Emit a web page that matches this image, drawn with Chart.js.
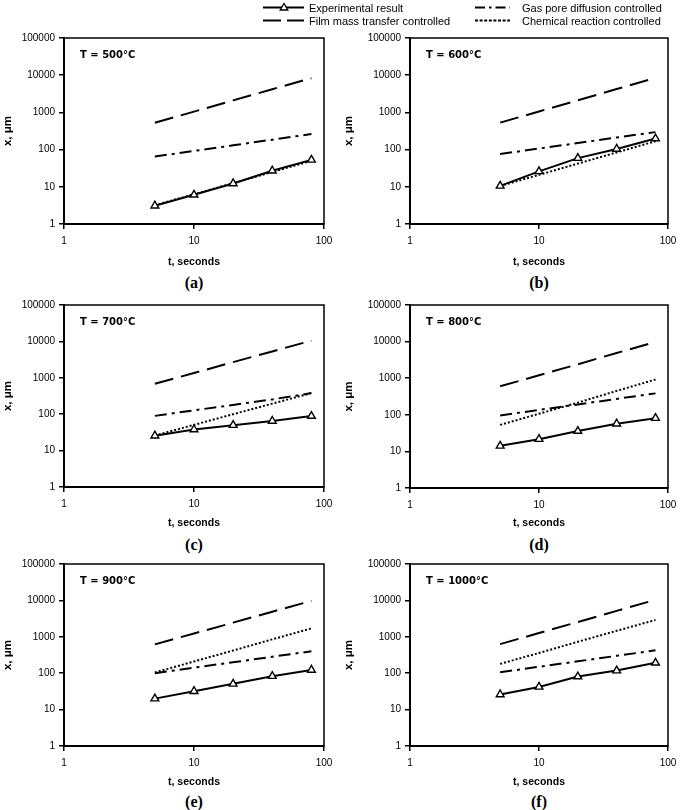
<!DOCTYPE html>
<html><head><meta charset="utf-8">
<script src="https://cdn.jsdelivr.net/npm/chart.js@4.4.1/dist/chart.umd.min.js"></script>
<style>
html,body{margin:0;padding:0;background:#fff;}
#wrap{position:relative;width:685px;height:810px;overflow:hidden;background:#fff;}
#wrap canvas{position:absolute;}
.lg{position:absolute;font:11px 'Liberation Sans',Arial,sans-serif;color:#000;white-space:nowrap;line-height:12px;}
.sub{position:absolute;font:bold 16px 'Liberation Serif','Times New Roman',serif;color:#000;transform:translate(-50%,-50%);white-space:nowrap;}
#lgsvg{position:absolute;left:0;top:0;}
</style></head><body><div id="wrap"></div>
<script>
// ---------------- data ----------------
const times = [5, 10, 20, 40, 80];             // t, seconds
const xTickValues = [1, 10, 100];
const yTickValues = [1, 10, 100, 1000, 10000, 100000];
const seriesNames = ['Experimental result', 'Film mass transfer controlled', 'Gas pore diffusion controlled', 'Chemical reaction controlled'];
const panelTemps = ['500', '600', '700', '800', '900', '1000'];
const panelLetters = ['(a)', '(b)', '(c)', '(d)', '(e)', '(f)'];

const exp500  = [3.1, 6.1, 12.3, 27, 53];
const film500 = [527, 1050, 2100, 4200, 8300];
const gas500  = [65, 92, 130, 185, 262];
const chem500 = [3.2, 6.3, 12.5, 25, 50];

const exp600  = [10.6, 26, 59, 104, 198];
const film600 = [530, 1060, 2120, 4250, 8500];
const gas600  = [76, 107, 150, 212, 295];
const chem600 = [10.5, 21, 42, 84, 168];

const exp700  = [25.7, 38, 50, 65, 89];
const film700 = [690, 1350, 2700, 5300, 10500];
const gas700  = [90, 128, 180, 255, 380];
const chem700 = [26, 51, 100, 195, 380];

const exp800  = [14.2, 21.6, 36, 57, 81];
const film800 = [600, 1200, 2400, 4900, 9800];
const gas800  = [96, 136, 192, 272, 385];
const chem800 = [53, 107, 215, 450, 920];

const exp900  = [20, 32, 51, 83, 123];
const film900 = [620, 1230, 2450, 4900, 9700];
const gas900  = [100, 142, 200, 283, 400];
const chem900 = [105, 210, 420, 850, 1700];

const exp1000  = [26, 42, 81, 118, 193];
const film1000 = [630, 1270, 2550, 5150, 10400];
const gas1000  = [106, 150, 212, 300, 425];
const chem1000 = [180, 360, 730, 1460, 2900];

const panelSeries = [
  [exp500, film500, gas500, chem500],
  [exp600, film600, gas600, chem600],
  [exp700, film700, gas700, chem700],
  [exp800, film800, gas800, chem800],
  [exp900, film900, gas900, chem900],
  [exp1000, film1000, gas1000, chem1000]
];

// ---------------- layout & style ----------------
const layoutBoxes = [
  {px:0,   l:64,  t:38,  r:324, b:224, titleY:262, subY:283, yTitleX:8},
  {px:342, l:410, t:38,  r:668, b:224, titleY:262, subY:283, yTitleX:349},
  {px:0,   l:64,  t:305, r:324, b:487, titleY:523, subY:545, yTitleX:8},
  {px:342, l:410, t:305, r:668, b:488, titleY:523, subY:545, yTitleX:349},
  {px:0,   l:64,  t:564, r:324, b:746, titleY:782, subY:802, yTitleX:8},
  {px:342, l:410, t:564, r:668, b:746, titleY:782, subY:802, yTitleX:349}
];
const seriesStyles = [
  {borderWidth:2, borderDash:[], pointStyle:'triangle', pointRadius:4.5, pointBorderWidth:1.4},
  {borderWidth:2, borderDash:[19, 8], pointRadius:0},
  {borderWidth:2, borderDash:[12, 5, 3, 5], pointRadius:0},
  {borderWidth:2, borderDash:[2, 2], pointRadius:0}
];
const tickFont = {family:"'Liberation Sans', Arial, sans-serif", size:10};
const titleFont = {family:"'Liberation Sans', Arial, sans-serif", size:10.5, weight:'bold'};
const yTitleFont = {family:"'Liberation Sans', Arial, sans-serif", size:11.5, weight:'bold'};
const LH = 10.5 * 1.2;
const YLH = 11.5 * 1.2;

const framePlugin = {
  id: 'frame',
  beforeDatasetsDraw(chart, args, opts) {
    const {ctx, chartArea: a} = chart;
    ctx.save();
    ctx.strokeStyle = '#000';
    ctx.lineWidth = 1.5;
    ctx.strokeRect(a.left, a.top, a.right - a.left, a.bottom - a.top);
    ctx.fillStyle = '#000';
    ctx.font = "bold 10px 'DejaVu Sans', Verdana, sans-serif";
    ctx.textBaseline = 'middle';
    ctx.textAlign = 'left';
    ctx.fillText(opts.label, a.left + 16, a.top + 17);
    ctx.restore();
  }
};

const wrap = document.getElementById('wrap');

function makePanel(i) {
  const g = layoutBoxes[i];
  const W = g.px === 0 ? 342 : 343;
  const topPad = 10;
  const canvasTop = g.t - topPad;
  const H = Math.round(g.titleY + LH / 2 - canvasTop);
  const cv = document.createElement('canvas');
  cv.width = W; cv.height = H;
  cv.style.left = g.px + 'px'; cv.style.top = canvasTop + 'px';
  cv.style.width = W + 'px'; cv.style.height = H + 'px';
  wrap.appendChild(cv);

  const datasets = panelSeries[i].map((vals, k) => Object.assign({
    label: seriesNames[k],
    data: vals.map((v, j) => ({x: times[j], y: v})),
    borderColor: '#000',
    backgroundColor: '#fff',
    pointBackgroundColor: '#fff',
    pointBorderColor: '#000',
    fill: false,
    tension: 0
  }, seriesStyles[k]));

  const xH = H - topPad - (g.b - g.t);
  new Chart(cv, {
    type: 'line',
    data: {datasets},
    plugins: [framePlugin],
    options: {
      responsive: false,
      animation: false,
      devicePixelRatio: 1,
      layout: {padding: {top: topPad, left: 0, right: W - (g.r - g.px), bottom: 0}},
      plugins: {
        legend: {display: false},
        tooltip: {enabled: false},
        frame: {label: 'T = ' + panelTemps[i] + '\u00B0C'}
      },
      scales: {
        x: {
          type: 'logarithmic', position: 'bottom', min: 1, max: 100,
          afterBuildTicks: s => { s.ticks = xTickValues.map(v => ({value: v})); },
          afterFit: s => { s.height = xH; },
          ticks: {autoSkip: false, maxRotation: 0, padding: 6.5, font: tickFont, color: '#000', callback: v => String(v)},
          grid: {drawOnChartArea: false, drawTicks: true, tickLength: 5, color: '#000', lineWidth: 1.5},
          border: {display: true, color: '#000', width: 2},
          title: {display: true, text: 't, seconds', font: titleFont, color: '#000', padding: 0}
        },
        y: {
          type: 'logarithmic', position: 'left', min: 1, max: 100000,
          afterBuildTicks: s => { s.ticks = yTickValues.map(v => ({value: v})); },
          afterFit: s => { s.width = g.l - g.px; },
          ticks: {autoSkip: false, padding: 4, font: tickFont, color: '#000', callback: v => String(v)},
          grid: {drawOnChartArea: false, drawTicks: true, tickLength: 5, color: '#000', lineWidth: 1.5},
          border: {display: true, color: '#000', width: 2},
          title: {display: true, text: 'x, \u03BCm', font: yTitleFont, color: '#000',
                  padding: {top: Math.max(0, (g.yTitleX - g.px) - YLH / 2), bottom: 0}}
        }
      }
    }
  });

  const sub = document.createElement('div');
  sub.className = 'sub';
  sub.textContent = panelLetters[i];
  sub.style.left = ((g.l + g.r) / 2) + 'px';
  sub.style.top = g.subY + 'px';
  wrap.appendChild(sub);
}

for (let i = 0; i < 6; i++) makePanel(i);

// ---------------- legend ----------------
const svgNS = 'http://www.w3.org/2000/svg';
const svg = document.createElementNS(svgNS, 'svg');
svg.setAttribute('id', 'lgsvg');
svg.setAttribute('width', '685'); svg.setAttribute('height', '30');
function seg(x1, x2, y, dash) {
  const ln = document.createElementNS(svgNS, 'line');
  ln.setAttribute('x1', x1); ln.setAttribute('x2', x2);
  ln.setAttribute('y1', y); ln.setAttribute('y2', y);
  ln.setAttribute('stroke', '#000'); ln.setAttribute('stroke-width', '2');
  if (dash) ln.setAttribute('stroke-dasharray', dash);
  svg.appendChild(ln);
}
seg(263, 304, 7.5, null);
const tri = document.createElementNS(svgNS, 'polygon');
tri.setAttribute('points', '284,3.5 287.8,10 280.2,10');
tri.setAttribute('fill', '#fff'); tri.setAttribute('stroke', '#000'); tri.setAttribute('stroke-width', '1.3');
svg.appendChild(tri);
seg(263, 304, 20.5, '18 6');
seg(475, 510, 7.5, '10 4 2.5 4');
seg(475, 510, 20.5, '3 1.6');
wrap.appendChild(svg);

const legendPos = [[309, 1.5], [309, 14.5], [522, 1.5], [522, 14.5]];
const legendOrder = [0, 1, 2, 3];
legendOrder.forEach((k, n) => {
  const d = document.createElement('div');
  d.className = 'lg';
  d.textContent = seriesNames[k];
  d.style.left = legendPos[n][0] + 'px';
  d.style.top = legendPos[n][1] + 'px';
  wrap.appendChild(d);
});
</script></body></html>
